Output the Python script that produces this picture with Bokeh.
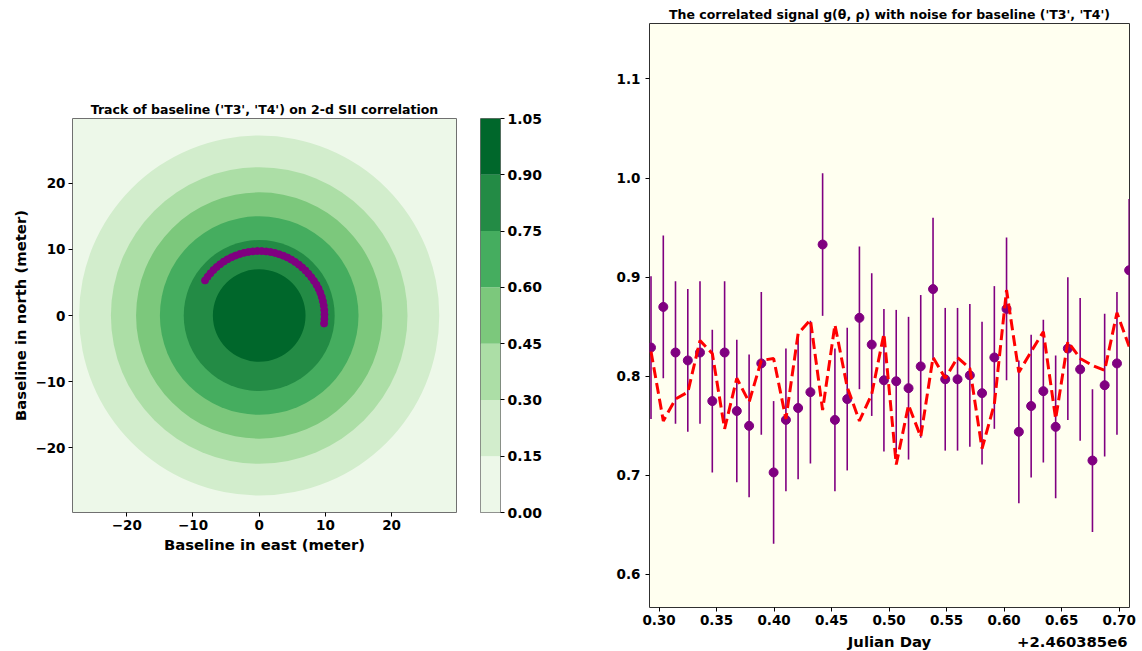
from bokeh.plotting import figure
from bokeh.layouts import row, column
from bokeh.models import (ColumnDataSource, Range1d, FixedTicker, PrintfTickFormatter,
                          CustomJSTickFormatter, Label)
from bokeh.embed import file_html
from bokeh.resources import INLINE

FONT = "DejaVu Sans"

# ---------------- data ----------------
levels = [0.00, 0.15, 0.30, 0.45, 0.60, 0.75, 0.90, 1.05]
band_colors = ["#edf8e9", "#d2edcc", "#acdea6", "#7cc87c", "#45ad5f", "#238b45", "#00672b"]
# outer radius (m) of the filled contour bands above 0.15, 0.30, ... 0.90
ring_radii = [27.2, 22.4, 18.6, 15.0, 11.4, 7.0]
ring_levels = [0.15, 0.30, 0.45, 0.60, 0.75, 0.90]

track_east = [-8.18, -7.79, -7.37, -6.91, -6.42, -5.90, -5.35, -4.78, -4.18, -3.57,
              -2.93, -2.28, -1.63, -0.96, -0.29, 0.38, 1.05, 1.72, 2.38, 3.02,
              3.65, 4.27, 4.86, 5.43, 5.98, 6.49, 6.98, 7.43, 7.87, 8.27,
              8.65, 8.96, 9.23, 9.45, 9.62, 9.75, 9.83, 9.86, 9.85, 9.80]
track_north = [5.31, 5.86, 6.38, 6.88, 7.34, 7.76, 8.15, 8.50, 8.81, 9.07,
               9.30, 9.48, 9.61, 9.70, 9.75, 9.74, 9.69, 9.60, 9.46, 9.27,
               9.04, 8.77, 8.45, 8.10, 7.70, 7.27, 6.81, 6.32, 5.80, 5.24,
               4.65, 4.07, 3.45, 2.81, 2.16, 1.50, 0.83, 0.14, -0.54, -1.21]

jd_offset = [0.2930, 0.3037, 0.3143, 0.3250, 0.3356, 0.3463, 0.3570, 0.3676, 0.3783, 0.3889,
             0.3996, 0.4103, 0.4209, 0.4316, 0.4422, 0.4529, 0.4636, 0.4742, 0.4849, 0.4955,
             0.5062, 0.5169, 0.5275, 0.5382, 0.5488, 0.5595, 0.5702, 0.5808, 0.5915, 0.6021,
             0.6128, 0.6235, 0.6341, 0.6448, 0.6554, 0.6661, 0.6768, 0.6874, 0.6981, 0.7087]
g_noisy = [0.829, 0.870, 0.824, 0.816, 0.824, 0.775, 0.824, 0.765, 0.750, 0.813,
           0.703, 0.756, 0.768, 0.784, 0.933, 0.756, 0.777, 0.859, 0.832, 0.796,
           0.795, 0.788, 0.810, 0.888, 0.797, 0.797, 0.801, 0.783, 0.819, 0.868,
           0.744, 0.770, 0.785, 0.749, 0.828, 0.807, 0.715, 0.791, 0.813, 0.907]
g_model = [0.825, 0.755, 0.777, 0.784, 0.836, 0.823, 0.747, 0.798, 0.774, 0.816,
           0.818, 0.757, 0.843, 0.857, 0.766, 0.852, 0.789, 0.755, 0.782, 0.843,
           0.711, 0.771, 0.739, 0.819, 0.798, 0.819, 0.808, 0.727, 0.772, 0.887,
           0.804, 0.825, 0.845, 0.757, 0.835, 0.818, 0.811, 0.806, 0.864, 0.830]
g_sigma = 0.072

x_ticks_left = [-20, -10, 0, 10, 20]
y_ticks_left = [-20, -10, 0, 10, 20]
x_ticks_right = [0.30, 0.35, 0.40, 0.45, 0.50, 0.55, 0.60, 0.65, 0.70]
y_ticks_right = [0.6, 0.7, 0.8, 0.9, 1.0, 1.1]
jd_axis_label = "Julian Day"
jd_base_label = "+2.460385e6"


def style_axis(ax):
    ax.major_label_text_font = FONT
    ax.major_label_text_font_style = "bold"
    ax.major_label_text_font_size = "13.5px"
    ax.major_label_text_color = "black"
    ax.axis_label_text_font = FONT
    ax.axis_label_text_font_style = "bold"
    ax.axis_label_text_font_size = "14.8px"
    ax.axis_label_text_color = "black"
    ax.axis_line_color = None
    ax.major_tick_out = 4
    ax.major_tick_in = 0
    ax.minor_tick_out = 0
    ax.minor_tick_in = 0
    ax.major_tick_line_color = "black"
    ax.major_tick_line_width = 1
    ax.major_label_standoff = 3
    ax.axis_label_standoff = 3


def style_title(p):
    p.title.text_font = FONT
    p.title.text_font_style = "bold"
    p.title.text_font_size = "12.5px"
    p.title.text_color = "black"
    p.title.align = "center"
    p.title.standoff = 3


minus_fmt = CustomJSTickFormatter(code="return (tick < 0 ? '\u2212' : '') + Math.abs(tick).toString();")

# ---------------- left: contour map ----------------
f1 = figure(width=466, height=651, x_range=Range1d(-28.2, 29.8), y_range=Range1d(-29.8, 29.8),
            output_backend="svg", toolbar_location=None, frame_align=False,
            min_border_left=72, min_border_right=10, min_border_top=118, min_border_bottom=139,
            title="Track of baseline ('T3', 'T4') on 2-d SII correlation")
style_title(f1)
f1.background_fill_color = band_colors[0]
f1.border_fill_color = "white"
f1.outline_line_color = "#707070"
f1.outline_line_width = 1
f1.grid.visible = False

ring_src = ColumnDataSource(dict(x=[0.0] * len(ring_radii), y=[0.0] * len(ring_radii),
                                 r=ring_radii, c=band_colors[1:], lev=ring_levels))
f1.circle(x="x", y="y", radius="r", fill_color="c", line_color=None, source=ring_src)
f1.scatter(track_east, track_north, size=7, color="#800080", line_color="#800080")

f1.xaxis.ticker = FixedTicker(ticks=x_ticks_left)
f1.yaxis.ticker = FixedTicker(ticks=y_ticks_left)
f1.xaxis.formatter = minus_fmt
f1.yaxis.formatter = minus_fmt
f1.xaxis.axis_label = "Baseline in east (meter)"
f1.yaxis.axis_label = "Baseline in north (meter)"
style_axis(f1.xaxis)
style_axis(f1.yaxis)

# ---------------- colour bar ----------------
f2 = figure(width=82, height=651, x_range=Range1d(0, 1), y_range=Range1d(levels[0], levels[-1]),
            output_backend="svg", toolbar_location=None, frame_align=False,
            y_axis_location="right", x_axis_location=None,
            min_border_left=14, min_border_right=48, min_border_top=118, min_border_bottom=139)
f2.border_fill_color = "white"
f2.outline_line_color = "#707070"
f2.outline_line_width = 1
f2.grid.visible = False
f2.quad(left=0, right=1, bottom=levels[:-1], top=levels[1:], fill_color=band_colors, line_color=None)
f2.yaxis.ticker = FixedTicker(ticks=levels)
f2.yaxis.formatter = PrintfTickFormatter(format="%.2f")
style_axis(f2.yaxis)
f2.yaxis.major_label_text_font_size = "14px"

# ---------------- right: correlated signal ----------------
f3 = figure(width=594, height=631, x_range=Range1d(0.2917, 0.709), y_range=Range1d(0.5667, 1.156),
            output_backend="svg", toolbar_location=None, frame_align=False,
            min_border_left=101, min_border_right=13, min_border_top=23, min_border_bottom=24,
            title="The correlated signal g(\u03b8, \u03c1) with noise for baseline ('T3', 'T4')")
style_title(f3)
f3.background_fill_color = "#fffff0"
f3.border_fill_color = "white"
f3.outline_line_color = "#303030"
f3.outline_line_width = 1
f3.grid.visible = False

sig_src = ColumnDataSource(dict(
    x=jd_offset, y=g_noisy, model=g_model,
    lo=[v - g_sigma for v in g_noisy], hi=[v + g_sigma for v in g_noisy]))
f3.segment(x0="x", y0="lo", x1="x", y1="hi", line_color="#800080", line_width=1.6, source=sig_src)
f3.scatter(x="x", y="y", size=9, color="#800080", source=sig_src)
f3.line(x="x", y="model", line_color="red", line_width=3, line_dash="11 5", source=sig_src)

f3.xaxis.ticker = FixedTicker(ticks=x_ticks_right)
f3.xaxis.formatter = PrintfTickFormatter(format="%.2f")
f3.yaxis.ticker = FixedTicker(ticks=y_ticks_right)
f3.yaxis.formatter = PrintfTickFormatter(format="%.1f")
style_axis(f3.xaxis)
style_axis(f3.yaxis)
f3.yaxis.major_label_standoff = 5

# strip under the right panel carrying the x-axis title and the offset text
f4 = figure(width=594, height=20, x_range=Range1d(0, 1), y_range=Range1d(0, 1),
            output_backend="svg", toolbar_location=None, frame_align=False,
            x_axis_location=None, y_axis_location=None,
            min_border_left=101, min_border_right=13, min_border_top=0, min_border_bottom=0)
f4.outline_line_color = None
f4.background_fill_color = "white"
f4.border_fill_color = "white"
f4.grid.visible = False
f4.add_layout(Label(x=240, y=10, x_units="screen", y_units="screen", text=jd_axis_label,
                    text_align="center", text_baseline="middle", text_font=FONT,
                    text_font_style="bold", text_font_size="14.8px", text_color="black"))
f4.add_layout(Label(x=478, y=10, x_units="screen", y_units="screen", text=jd_base_label,
                    text_align="right", text_baseline="middle", text_font=FONT,
                    text_font_style="bold", text_font_size="14.8px", text_color="black"))

layout = row(f1, f2, column(f3, f4))
open("out.html", "w").write(file_html(layout, INLINE))
